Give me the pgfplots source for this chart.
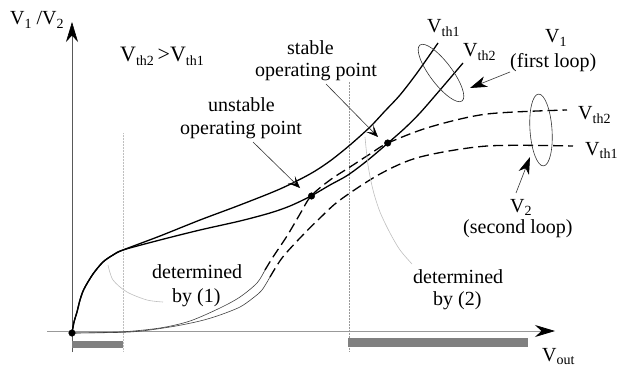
\documentclass[border=0pt]{standalone}
\usepackage{fontspec}
\setmainfont{Liberation Serif}
\usepackage{pgfplots}
\pgfplotsset{compat=1.18}
\usetikzlibrary{arrows.meta,shapes.geometric}

% subscript in the style of the figure
\newcommand{\sub}[1]{\raisebox{-0.35ex}{\fontsize{14}{14}\selectfont #1}}

\begin{document}
\begin{tikzpicture}
\begin{axis}[
  hide axis, scale only axis, clip=false,
  width=619pt, height=369pt,
  xmin=0, xmax=619, ymin=0, ymax=369, y dir=reverse,
]
% axes (pixel-like coordinates, y downwards)
\addplot[black!65, line width=0.6pt, -{Stealth[length=20pt,width=12pt,black]}]
  coordinates {(72,352) (72,22)};
\addplot[black!40, line width=0.8pt, -{Stealth[length=20pt,width=12pt,black]}]
  coordinates {(47,331) (555,331)};

% regions of validity
\addplot[black!25, line width=0.5pt, densely dotted] coordinates {(123,133) (123,352)};
\addplot[black!40, line width=0.5pt, densely dotted] coordinates {(349,82) (349,352)};
\addplot[fill=black!50, draw=none] coordinates {(72,341) (123,341) (123,348) (72,348)} -- cycle;
\addplot[fill=black!50, draw=none] coordinates {(348,338) (528,338) (528,347) (348,347)} -- cycle;

% first loop, V_th1
\addplot[black, line width=1.3pt, smooth, tension=0.5] coordinates {
  (72,333) (74,322) (77,312) (80,300) (84,289) (93,274) (103,262) (113,255) (123,250)
  (160,236) (200,220) (240,205) (280,189) (310,174) (330,161) (350,145) (370,127)
  (385,111) (400,95) (417,73) (438,43)};
% first loop, V_th2
\addplot[black, line width=1.3pt, smooth, tension=0.5] coordinates {
  (72,333) (74,322) (77,312) (80,300) (84,289) (93,274) (103,262) (113,255) (123,250)
  (160,240) (200,230) (240,221) (270,213) (290,206) (311,196) (330,185)
  (348,175) (368,160) (388,143) (405,128) (420,113) (440,90) (463,63)};

% second loop, V_th2
\addplot[black!75, line width=0.6pt, smooth, tension=0.5] coordinates {
  (72,333) (120,332) (160,328) (190,321) (220,308) (240,297) (257,283) (265,270)};
\addplot[black, line width=1.3pt, dash pattern=on 10pt off 5pt, smooth, tension=0.5] coordinates {
  (265,270) (273,257) (287,236) (300,214) (311,196) (330,180) (350,167) (370,154)
  (388,143) (430,127) (487,114) (567,110)};
% second loop, V_th1
\addplot[black!75, line width=0.6pt, smooth, tension=0.5] coordinates {
  (72,333) (130,332) (170,327) (200,321) (220,315) (240,307) (253,298) (262,290) (270,277)};
\addplot[black, line width=1.3pt, dash pattern=on 10pt off 5pt, smooth, tension=0.5] coordinates {
  (270,277) (282,258) (300,238) (320,218) (340,200) (380,174) (420,157) (487,146) (573,146)};

% operating points
\addplot[only marks, mark=*, mark size=3.3pt, black] coordinates {(72,333) (311.5,196) (387.7,143)};

% "determined by" leaders
\addplot[black!25, line width=0.6pt, smooth] coordinates {
  (108,265) (113,280) (127,292) (147,300) (163,302)};
\addplot[black!25, line width=0.6pt, smooth] coordinates {
  (365,137) (368,165) (373,190) (380,212) (390,233) (400,250) (412,264)};

% loops and arrows
\node[draw=black!80, ellipse, line width=0.6pt, minimum width=70pt, minimum height=22pt,
      inner sep=0pt, rotate=-53] at (axis cs:441,73) {};
\node[draw=black!80, ellipse, line width=0.6pt, minimum width=22pt, minimum height=72pt,
      inner sep=0pt, rotate=4] at (axis cs:541,130) {};
\draw[black!80, line width=0.6pt, -{Stealth[length=17pt,width=11pt,inset=5pt,black]}]
  (axis cs:510,72) -- (axis cs:470,88);
\draw[black!80, line width=0.6pt, -{Stealth[length=17pt,width=11pt,inset=5pt,black]}]
  (axis cs:516,193) -- (axis cs:530,157);
\draw[black!80, line width=0.6pt, -{Stealth[length=12pt,width=10pt,inset=6pt,black]}]
  (axis cs:253,142) -- (axis cs:300,188);
\draw[black!80, line width=0.6pt, -{Stealth[length=12pt,width=10pt,inset=6pt,black]}]
  (axis cs:326,84) -- (axis cs:378,137);

% labels
\begin{scope}[every node/.style={anchor=base west, inner sep=0pt, font=\fontsize{20}{25}\selectfont}]
\node at (axis cs:10,25) {V\sub{1} /V\sub{2}};
\node[font=\fontsize{22}{26}\selectfont] at (axis cs:120,62) {V\sub{th2}\,>V\sub{th1}};
\node at (axis cs:287,55) {stable};
\node at (axis cs:255,77) {operating point};
\node at (axis cs:208,112) {unstable};
\node at (axis cs:180,135) {operating point};
\node at (axis cs:427,33) {V\sub{th1}};
\node at (axis cs:463,57) {V\sub{th2}};
\node at (axis cs:545,43) {V\sub{1}};
\node at (axis cs:510,68) {(first loop)};
\node at (axis cs:578,120) {V\sub{th2}};
\node at (axis cs:585,155) {V\sub{th1}};
\node at (axis cs:510,212) {V\sub{2}};
\node at (axis cs:463,233) {(second loop)};
\node at (axis cs:152,278) {determined};
\node at (axis cs:172,302) {by (1)};
\node at (axis cs:413,283) {determined};
\node at (axis cs:433,305) {by (2)};
\node at (axis cs:542,361) {V\sub{out}};
\end{scope}
\end{axis}
\pgfresetboundingbox
\path[use as bounding box] (current axis.south west) rectangle (current axis.north east);
\end{tikzpicture}
\end{document}
